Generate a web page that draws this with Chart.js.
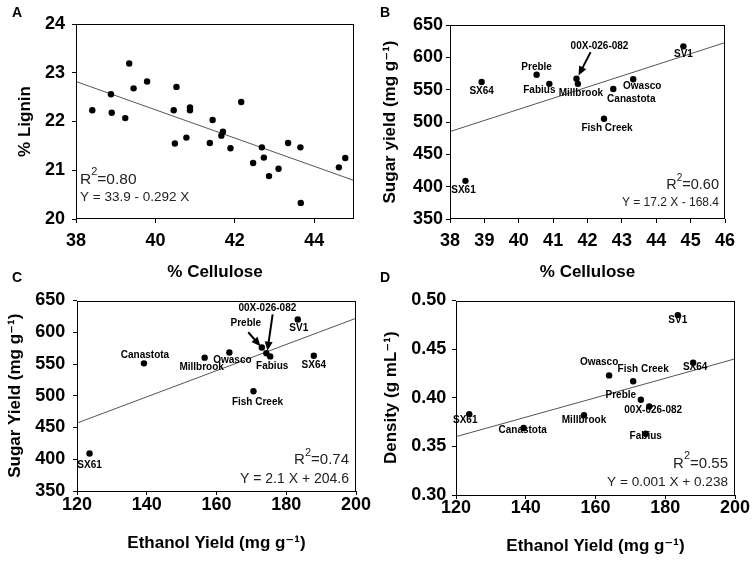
<!DOCTYPE html>
<html>
<head>
<meta charset="utf-8">
<script src="https://cdn.jsdelivr.net/npm/chart.js@4.4.0/dist/chart.umd.min.js"></script>
<style>
  body { margin: 0; background: #fff; }
  #wrap { position: relative; width: 755px; height: 565px; overflow: hidden; }
  canvas { position: absolute; }
  .tag { position: absolute; font: bold 14px 'Liberation Sans', Arial, sans-serif; line-height: 14px; color: #000; }
</style>
</head>
<body>
<div id="wrap">
  <canvas id="chartA" width="377" height="282" style="left:0;top:0;width:377px;height:282px"></canvas>
  <canvas id="chartB" width="378" height="282" style="left:377px;top:0;width:378px;height:282px"></canvas>
  <canvas id="chartC" width="377" height="283" style="left:0;top:282px;width:377px;height:283px"></canvas>
  <canvas id="chartD" width="378" height="283" style="left:377px;top:282px;width:378px;height:283px"></canvas>
  <div class="tag" style="left:12px;top:5px">A</div>
  <div class="tag" style="left:380px;top:5px">B</div>
  <div class="tag" style="left:12px;top:270px">C</div>
  <div class="tag" style="left:380px;top:270px">D</div>
</div>
<script>
// ---- data ----
// panel A: all samples
const aCellulose = [38.41, 38.88, 38.90, 39.24, 39.34, 39.45, 39.79, 40.46, 40.49, 40.53, 40.78, 40.87, 40.87, 41.37, 41.44,
                    41.66, 41.70, 41.89, 42.16, 42.46, 42.68, 42.73, 42.86, 43.10, 43.34, 43.65, 43.66, 44.62, 44.78];
const aLignin = [22.23, 22.56, 22.18, 22.07, 23.19, 22.68, 22.82, 22.23, 21.55, 22.71, 21.67, 22.29, 22.23, 21.56, 22.03,
                 21.71, 21.79, 21.45, 22.40, 21.15, 21.47, 21.26, 20.88, 21.03, 21.56, 21.47, 20.33, 21.06, 21.25];

// panels B-D: clones
const clones = ['SX61', 'SX64', 'Preble', 'Fabius', '00X-026-082', 'Millbrook', 'Fish Creek', 'Canastota', 'Owasco', 'SV1'];
const bCellulose = [38.45, 38.92, 40.52, 40.89, 41.68, 41.72, 42.48, 42.75, 43.33, 44.79];
const bSugar = [409, 562, 573, 559, 567, 559, 505, 551, 566, 617];
const cEthanol = [123.6, 187.9, 173.0, 175.4, 174.3, 156.6, 170.6, 139.2, 163.7, 183.3];
const cSugar = [409, 563, 576, 562, 567, 560, 507, 551, 568, 620];
const dEthanol = [123.8, 188.0, 173.0, 174.4, 175.4, 156.7, 170.8, 139.4, 163.9, 183.6];
const dDensity = [0.383, 0.436, 0.398, 0.363, 0.391, 0.382, 0.417, 0.369, 0.423, 0.485];

// regression lines (end values at axis limits)
const aTrendX = [38, 45], aTrendY = [22.82, 20.79];
const bTrendX = [38, 46], bTrendY = [485.2, 622.8];
const cTrendX = [120, 200], cTrendY = [457, 622];
const dTrendX = [120, 200], dTrendY = [0.360, 0.440];

// ticks
const aXTicks = [38, 40, 42, 44], aYTicks = [20, 21, 22, 23, 24];
const bXTicks = [38, 39, 40, 41, 42, 43, 44, 45, 46], bYTicks = [350, 400, 450, 500, 550, 600, 650];
const cXTicks = [120, 140, 160, 180, 200], cYTicks = [350, 400, 450, 500, 550, 600, 650];
const dXTicks = [120, 140, 160, 180, 200], dYTicks = [0.30, 0.35, 0.40, 0.45, 0.50];

const FONT = "'Liberation Sans', Arial, 'DejaVu Sans', sans-serif";

// extra drawing per panel: frame, stats text, point labels, arrows
const extras = {
  chartA: { r2: '0.80', eq: 'Y = 33.9 - 0.292 X', align: 'left', dx: 4, r2Base: -35, eqBase: -18, r2Size: 15.5, eqSize: 13.5 },
  chartB: { r2: '0.60', eq: 'Y = 17.2 X - 168.4', align: 'right', dx: -6, r2Base: -30, eqBase: -13.5, r2Size: 14.5, eqSize: 12,
    labels: clones,
    offsets: [[-2, 9], [0, 9], [0, -8], [-10, 6], [23, -32], [3, 9], [3, 9], [18, 10], [9, 7], [0, 8]],
    arrows: [{ from: [42.09, 608], to: [41.74, 572] }] },
  chartC: { r2: '0.74', eq: 'Y = 2.1 X + 204.6', align: 'right', dx: -7, r2Base: -27, eqBase: -8.5, r2Size: 15, eqSize: 14,
    labels: clones,
    offsets: [[0, 12], [0, 10], [-16, -24], [2, 10], [1, -45], [-3, 10], [4, 11], [1, -8], [3, 8], [1, 9]],
    arrows: [{ from: [169.1, 600], to: [172.6, 578] }, { from: [176.1, 628], to: [174.6, 571] }] },
  chartD: { r2: '0.55', eq: 'Y = 0.001 X + 0.238', align: 'right', dx: -7, r2Base: -27.5, eqBase: -9, r2Size: 15, eqSize: 13.6,
    labels: clones,
    offsets: [[-4, 6], [2, 5], [-20, -4], [0, 3], [4, 4], [0, 5], [10, -12], [-1, 2], [-10, -13], [0, 5]],
    arrows: [] }
};

const extrasPlugin = {
  id: 'extras',
  afterDatasetsDraw(chart) {
    const ex = extras[chart.canvas.id];
    const { ctx, chartArea: ca } = chart;
    const xs = chart.scales.x, ys = chart.scales.y;
    ctx.save();
    ctx.strokeStyle = '#000';
    ctx.lineWidth = 1;
    ctx.strokeRect(Math.round(ca.left) + 0.5, Math.round(ca.top) + 0.5, Math.round(ca.right - ca.left) - 1, Math.round(ca.bottom - ca.top) - 1);

    // point labels
    if (ex.labels) {
      const pts = chart.getDatasetMeta(0).data;
      ctx.fillStyle = '#000';
      ctx.font = 'bold 10px ' + FONT;
      ctx.textAlign = 'center';
      ctx.textBaseline = 'middle';
      ex.labels.forEach((t, i) => {
        ctx.fillText(t, pts[i].x + ex.offsets[i][0], pts[i].y + ex.offsets[i][1]);
      });
    }
    // arrows
    (ex.arrows || []).forEach(a => {
      const x1 = xs.getPixelForValue(a.from[0]), y1 = ys.getPixelForValue(a.from[1]);
      const x2 = xs.getPixelForValue(a.to[0]), y2 = ys.getPixelForValue(a.to[1]);
      const ang = Math.atan2(y2 - y1, x2 - x1);
      ctx.strokeStyle = '#000';
      ctx.lineWidth = 2;
      ctx.beginPath();
      ctx.moveTo(x1, y1);
      ctx.lineTo(x2 - 6 * Math.cos(ang), y2 - 6 * Math.sin(ang));
      ctx.stroke();
      ctx.beginPath();
      ctx.moveTo(x2, y2);
      ctx.lineTo(x2 - 9 * Math.cos(ang) + 4 * Math.sin(ang), y2 - 9 * Math.sin(ang) - 4 * Math.cos(ang));
      ctx.lineTo(x2 - 9 * Math.cos(ang) - 4 * Math.sin(ang), y2 - 9 * Math.sin(ang) + 4 * Math.cos(ang));
      ctx.closePath();
      ctx.fillStyle = '#000';
      ctx.fill();
    });

    // R^2 and equation
    ctx.fillStyle = '#222';
    ctx.textBaseline = 'alphabetic';
    ctx.textAlign = 'left';
    const big = ex.r2Size + 'px ' + FONT, small = Math.round(ex.r2Size * 0.72) + 'px ' + FONT;
    ctx.font = big; const wR = ctx.measureText('R').width, wRest = ctx.measureText('=' + ex.r2).width;
    ctx.font = small; const w2 = ctx.measureText('2').width;
    const total = wR + w2 + wRest;
    let x0 = ex.align === 'left' ? ca.left + ex.dx : ca.right + ex.dx - total;
    const yb = ca.bottom + ex.r2Base;
    ctx.font = big; ctx.fillText('R', x0, yb);
    ctx.font = small; ctx.fillText('2', x0 + wR, yb - ex.r2Size * 0.55);
    ctx.font = big; ctx.fillText('=' + ex.r2, x0 + wR + w2, yb);
    ctx.font = ex.eqSize + 'px ' + FONT;
    ctx.textAlign = ex.align;
    ctx.fillText(ex.eq, ex.align === 'left' ? ca.left + ex.dx : ca.right + ex.dx, ca.bottom + ex.eqBase);
    ctx.restore();
  }
};

function pairs(xs, ys) {
  return xs.map((v, i) => ({ x: v, y: ys[i] }));
}

function makePanel(id, p) {
  const tickFont = { family: FONT, size: 18, weight: 'bold' };
  const titleFont = { family: FONT, size: 17, weight: 'bold' };
  new Chart(document.getElementById(id), {
    type: 'scatter',
    data: {
      datasets: [
        { data: pairs(p.x, p.y), backgroundColor: '#000', borderWidth: 0, pointRadius: 3.2 },
        { data: pairs(p.tx, p.ty), showLine: true, borderColor: '#555', borderWidth: 1, pointRadius: 0 }
      ]
    },
    options: {
      responsive: false,
      animation: false,
      events: [],
      layout: { padding: { left: 0, top: p.box.t, right: p.W - p.box.r, bottom: 0 } },
      plugins: { legend: { display: false }, tooltip: { enabled: false } },
      scales: {
        x: {
          type: 'linear', min: p.xMin, max: p.xMax,
          border: { display: false },
          grid: { drawOnChartArea: false, tickLength: 4, color: '#000' },
          ticks: { font: tickFont, color: '#000', padding: p.xPad, autoSkip: false, maxRotation: 0, includeBounds: false },
          afterBuildTicks: s => { s.ticks = p.xTicks.map(v => ({ value: v })); },
          afterFit: s => { s.height = p.H - p.box.b; },
          title: { display: true, text: p.xTitle, font: titleFont, color: '#000', padding: { top: 0, bottom: p.xtPad } }
        },
        y: {
          type: 'linear', min: p.yMin, max: p.yMax,
          border: { display: false },
          grid: { drawOnChartArea: false, tickLength: 4, color: '#000' },
          ticks: { font: tickFont, color: '#000', padding: p.yPad, autoSkip: false, includeBounds: false,
                   callback: v => p.yFmt ? v.toFixed(p.yFmt) : v },
          afterBuildTicks: s => { s.ticks = p.yTicks.map(v => ({ value: v })); },
          afterFit: s => { s.width = p.box.l; },
          title: { display: true, text: p.yTitle, font: titleFont, color: '#000', padding: { top: p.ytPad, bottom: 0 } }
        }
      }
    },
    plugins: [extrasPlugin]
  });
}

makePanel('chartA', {
  x: aCellulose, y: aLignin, tx: aTrendX, ty: aTrendY,
  xMin: 38, xMax: 45, yMin: 20, yMax: 24, xTicks: aXTicks, yTicks: aYTicks,
  W: 377, H: 282, box: { l: 76, r: 354, t: 24, b: 219 },
  xPad: 7, yPad: 7, xtPad: -1, ytPad: 14.8,
  xTitle: '% Cellulose', yTitle: '% Lignin'
});
makePanel('chartB', {
  x: bCellulose, y: bSugar, tx: bTrendX, ty: bTrendY,
  xMin: 38, xMax: 46, yMin: 350, yMax: 650, xTicks: bXTicks, yTicks: bYTicks,
  W: 378, H: 282, box: { l: 73, r: 348, t: 25, b: 219 },
  xPad: 7, yPad: 3, xtPad: -1, ytPad: 3.3,
  xTitle: '% Cellulose', yTitle: 'Sugar yield (mg g\u207B\u00B9)'
});
makePanel('chartC', {
  x: cEthanol, y: cSugar, tx: cTrendX, ty: cTrendY,
  xMin: 120, xMax: 200, yMin: 350, yMax: 650, xTicks: cXTicks, yTicks: cYTicks,
  W: 377, H: 283, box: { l: 77, r: 356, t: 14, b: 209 },
  xPad: -0.5, yPad: 7.7, xtPad: 11.8, ytPad: 4.8,
  xTitle: 'Ethanol Yield (mg g\u207B\u00B9)', yTitle: 'Sugar Yield (mg g\u207B\u00B9)'
});
makePanel('chartD', {
  x: dEthanol, y: dDensity, tx: dTrendX, ty: dTrendY,
  xMin: 120, xMax: 200, yMin: 0.30, yMax: 0.50, xTicks: dXTicks, yTicks: dYTicks, yFmt: 2,
  W: 378, H: 283, box: { l: 79, r: 358, t: 18.5, b: 213 },
  xPad: -1.5, yPad: 5.7, xtPad: 8.8, ytPad: 3.8,
  xTitle: 'Ethanol Yield (mg g\u207B\u00B9)', yTitle: 'Density (g mL\u207B\u00B9)'
});
</script>
</body>
</html>
